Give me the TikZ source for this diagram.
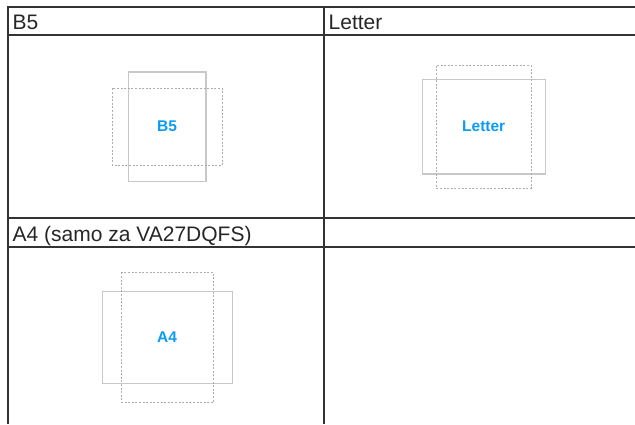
\documentclass[tikz,border=0pt]{standalone}
\usepackage{fontspec}
\setmainfont{Liberation Sans}
\definecolor{gridline}{HTML}{333333}
\definecolor{paperblue}{RGB}{10,155,245}
\definecolor{solidgray}{HTML}{C8C8C8}
\definecolor{dashgray}{HTML}{ADADAD}
\begin{document}
\begin{tikzpicture}[x=1bp,y=-1bp,
  tableline/.style={draw=gridline,line width=2bp},
  hdr/.style={anchor=base west,inner sep=0pt,font=\fontsize{21bp}{24bp}\selectfont,text=black!85},
  sizelabel/.style={inner sep=0pt,font=\fontsize{15.5bp}{18bp}\selectfont\bfseries,text=paperblue},
  solidpaper/.style={draw=solidgray,line width=1.3bp},
  dashpaper/.style={draw=dashgray,line width=0.8bp,dash pattern=on 2bp off 1.6bp}]
\useasboundingbox (0,0) rectangle (635,424);
% table
\draw[tableline] (8,7) -- (635,7);
\draw[tableline] (8,35) -- (635,35);
\draw[tableline] (8,218) -- (635,218);
\draw[tableline] (8,247) -- (635,247);
\draw[tableline] (8,6) -- (8,424);
\draw[tableline] (324.3,6) -- (324.3,424);
% headers
\node[hdr] (hB5) at (12.5,29) {B5};
\node[hdr] (hLetter) at (328.5,29) {Letter};
\node[hdr] (hA4) at (12.5,241.7) {A4 (samo za VA27DQFS)};
% B5 cell
\draw[solidpaper] (128.7,72) rectangle (206,181.7);
\draw[dashpaper] (112.3,88.3) rectangle (222.3,165.3);
\node[sizelabel] (lB5) at (167,126) {B5};
% Letter cell
\draw[solidpaper] (422.3,79.7) rectangle (545.3,174);
\draw[dashpaper] (436.3,65.7) rectangle (531.3,188);
\node[sizelabel] (lLetter) at (483.7,126) {Letter};
% A4 cell
\draw[solidpaper] (102.3,291.3) rectangle (232.3,383.7);
\draw[dashpaper] (121.7,272.3) rectangle (213.3,402.7);
\node[sizelabel] (lA4) at (167,336.7) {A4};
\end{tikzpicture}
\end{document}
